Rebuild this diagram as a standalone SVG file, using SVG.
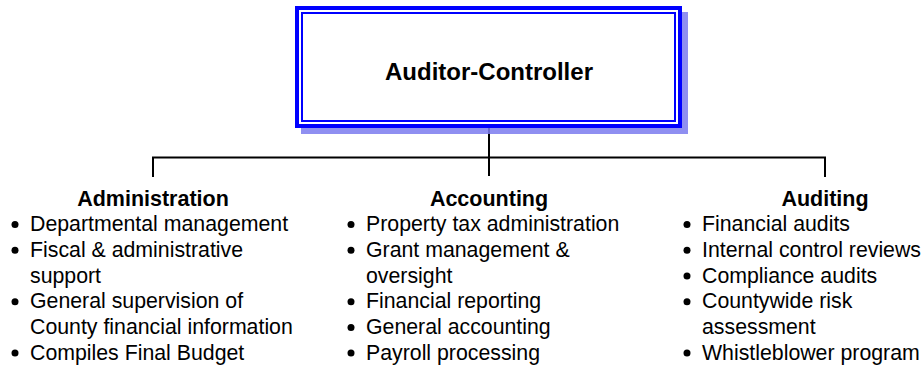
<svg xmlns="http://www.w3.org/2000/svg" width="923" height="366" viewBox="0 0 923 366">
  <style>
    .title { font-family: "Liberation Sans", Arial, sans-serif; font-weight: bold; font-size: 24px; fill: #000; text-anchor: middle; }
    .head { font-family: "Liberation Sans", Arial, sans-serif; font-weight: bold; font-size: 21.5px; fill: #000; text-anchor: middle; }
    .item { font-family: "Liberation Sans", Arial, sans-serif; font-size: 21.3px; fill: #000; }
    .conn { stroke: #000; stroke-width: 2; fill: none; }
    .bullet { fill: #000; }
  </style>
  <rect width="923" height="366" fill="#fff"/>
  <g id="connectors">
    <line class="conn" x1="489" y1="128" x2="489" y2="176"/>
    <polyline class="conn" points="153,177 153,157.5 825,157.5 825,177"/>
  </g>
  <g id="auditor-controller">
    <rect x="301" y="12" width="387" height="122" fill="#7b7bef" opacity="0.85"/>
    <rect x="297" y="8" width="383" height="118" fill="#fff" stroke="#0000ff" stroke-width="4"/>
    <rect x="302" y="13" width="373" height="108" fill="none" stroke="#0000ff" stroke-width="2"/>
    <text class="title" x="489" y="80">Auditor-Controller</text>
  </g>
  <g id="administration">
    <text class="head" x="153" y="205.5">Administration</text>
    <circle class="bullet" cx="15" cy="224.5" r="3.5"/>
    <text class="item" x="30" y="231.2">Departmental management</text>
    <circle class="bullet" cx="15" cy="250.3" r="3.5"/>
    <text class="item" x="30" y="257">Fiscal &amp; administrative</text>
    <text class="item" x="30" y="282.7">support</text>
    <circle class="bullet" cx="15" cy="301.7" r="3.5"/>
    <text class="item" x="30" y="308.4">General supervision of</text>
    <text class="item" x="30" y="334.1">County financial information</text>
    <circle class="bullet" cx="15" cy="353.1" r="3.5"/>
    <text class="item" x="30" y="359.8">Compiles Final Budget</text>
  </g>
  <g id="accounting">
    <text class="head" x="489" y="205.5">Accounting</text>
    <circle class="bullet" cx="351" cy="224.5" r="3.5"/>
    <text class="item" x="366" y="231.2">Property tax administration</text>
    <circle class="bullet" cx="351" cy="250.3" r="3.5"/>
    <text class="item" x="366" y="257">Grant management &amp;</text>
    <text class="item" x="366" y="282.7">oversight</text>
    <circle class="bullet" cx="351" cy="301.7" r="3.5"/>
    <text class="item" x="366" y="308.4">Financial reporting</text>
    <circle class="bullet" cx="351" cy="327.4" r="3.5"/>
    <text class="item" x="366" y="334.1">General accounting</text>
    <circle class="bullet" cx="351" cy="353.1" r="3.5"/>
    <text class="item" x="366" y="359.8">Payroll processing</text>
  </g>
  <g id="auditing">
    <text class="head" x="825" y="205.5">Auditing</text>
    <circle class="bullet" cx="687" cy="224.5" r="3.5"/>
    <text class="item" x="702" y="231.2">Financial audits</text>
    <circle class="bullet" cx="687" cy="250.3" r="3.5"/>
    <text class="item" x="702" y="257">Internal control reviews</text>
    <circle class="bullet" cx="687" cy="276" r="3.5"/>
    <text class="item" x="702" y="282.7">Compliance audits</text>
    <circle class="bullet" cx="687" cy="301.7" r="3.5"/>
    <text class="item" x="702" y="308.4">Countywide risk</text>
    <text class="item" x="702" y="334.1">assessment</text>
    <circle class="bullet" cx="687" cy="353.1" r="3.5"/>
    <text class="item" x="702" y="359.8">Whistleblower program</text>
  </g>
</svg>
